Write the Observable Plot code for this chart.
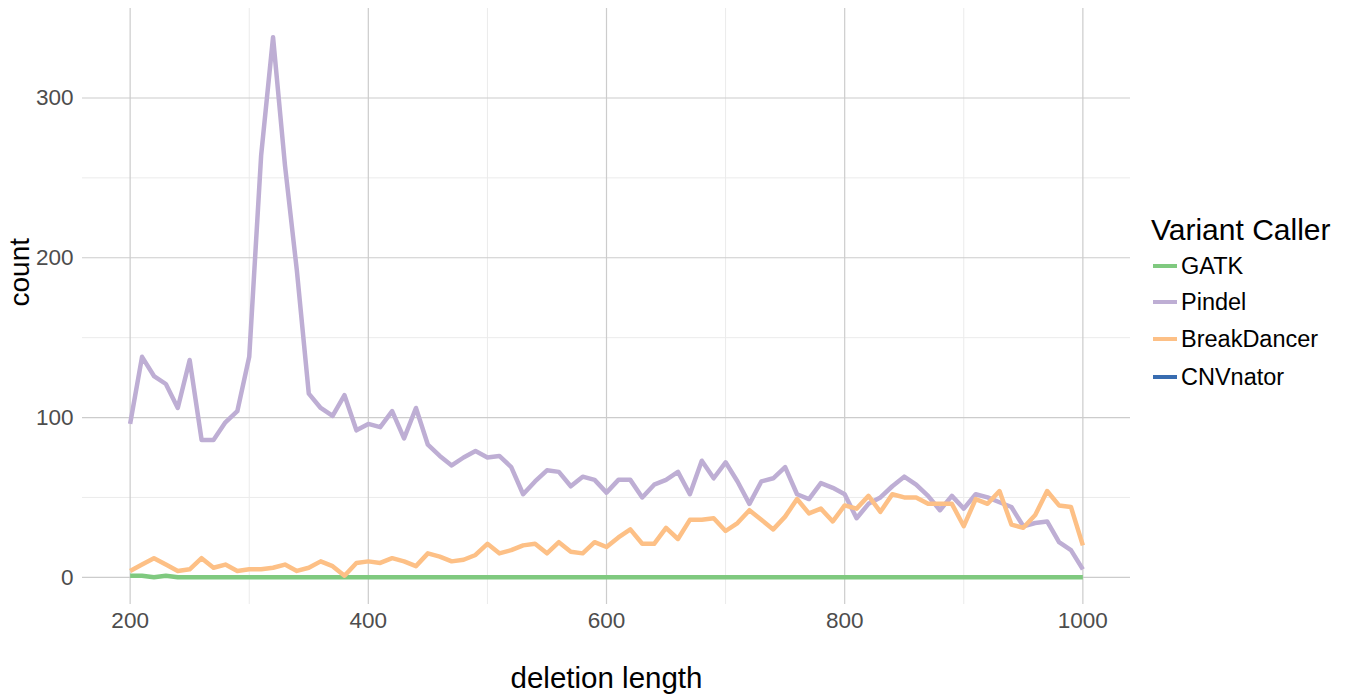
<!DOCTYPE html>
<html>
<head>
<meta charset="utf-8">
<script src="https://cdn.jsdelivr.net/npm/d3@7"></script>
<script src="https://cdn.jsdelivr.net/npm/@observablehq/plot@0.6"></script>
<style>
  html, body { margin: 0; padding: 0; background: #fff; }
  #wrap { position: relative; width: 1353px; height: 696px; font-family: "Liberation Sans", Arial, sans-serif; }
  #wrap svg { position: absolute; left: 0; top: 0; }
  #legend { position: absolute; left: 0; top: 0; width: 1353px; height: 696px; color: #000; pointer-events: none; }
  #legend .title { position: absolute; left: 1151px; top: 214px; font-size: 30px; line-height: 32px; white-space: nowrap; }
  #legend .item { position: absolute; left: 1153px; display: flex; align-items: center; height: 36px; font-size: 23.5px; white-space: nowrap; }
  #legend .key { width: 24px; height: 4px; margin-right: 4px; }
</style>
</head>
<body>
<div id="wrap"><div id="legend"></div></div>
<script>
const lengths = [200,210,220,230,240,250,260,270,280,290,300,310,320,330,340,350,360,370,380,390,400,
  410,420,430,440,450,460,470,480,490,500,510,520,530,540,550,560,570,580,590,600,
  610,620,630,640,650,660,670,680,690,700,710,720,730,740,750,760,770,780,790,800,
  810,820,830,840,850,860,870,880,890,900,910,920,930,940,950,960,970,980,990,1000];
const gatk = [1,1,0,1,0,0,0,0,0,0,0,0,0,0,0,0,0,0,0,0,0,
  0,0,0,0,0,0,0,0,0,0,0,0,0,0,0,0,0,0,0,0,
  0,0,0,0,0,0,0,0,0,0,0,0,0,0,0,0,0,0,0,0,
  0,0,0,0,0,0,0,0,0,0,0,0,0,0,0,0,0,0,0,0];
const pindel = [96,138,126,121,106,136,86,86,97,104,138,264,338,258,192,115,106,101,114,92,96,
  94,104,87,106,83,76,70,75,79,75,76,69,52,60,67,66,57,63,61,53,
  61,61,50,58,61,66,52,73,62,72,60,46,60,62,69,52,49,59,56,52,
  37,46,50,57,63,58,51,42,51,43,52,50,47,44,32,34,35,22,17,5];
const breakdancer = [4,8,12,8,4,5,12,6,8,4,5,5,6,8,4,6,10,7,1,9,10,
  9,12,10,7,15,13,10,11,14,21,15,17,20,21,15,22,16,15,22,19,
  25,30,21,21,31,24,36,36,37,29,34,42,36,30,38,49,40,43,35,45,
  43,51,41,52,50,50,46,46,46,32,49,46,54,33,31,39,54,45,44,20];
const cnvnator = [];
const callers = ["GATK", "Pindel", "BreakDancer", "CNVnator"];
const palette = ["#7fc97f", "#beaed4", "#fdc086", "#386cb0"];
const majorX = [200, 400, 600, 800, 1000];
const minorX = [300, 500, 700, 900];
const majorY = [0, 100, 200, 300];
const minorY = [50, 150, 250];
const xTitle = "deletion length";
const yTitle = "count";
const legendTitle = "Variant Caller";

const series = {GATK: gatk, Pindel: pindel, BreakDancer: breakdancer, CNVnator: cnvnator};
const rows = [];
for (const c of callers) {
  series[c].forEach((v, i) => rows.push({length: lengths[i], count: v, caller: c}));
}

const chart = Plot.plot({
  width: 1353,
  height: 696,
  marginLeft: 82,
  marginRight: 223,
  marginTop: 8,
  marginBottom: 92,
  style: {fontFamily: "Liberation Sans, Arial, sans-serif", fontSize: "22px", background: "transparent"},
  x: {domain: [160, 1040], label: null},
  y: {domain: [-17, 356], label: null},
  color: {domain: callers, range: palette},
  marks: [
    Plot.ruleX(minorX, {stroke: "#ebebeb", strokeWidth: 1}),
    Plot.ruleY(minorY, {stroke: "#ebebeb", strokeWidth: 1}),
    Plot.ruleX(majorX, {stroke: "#cccccc", strokeWidth: 1.2}),
    Plot.ruleY(majorY, {stroke: "#cccccc", strokeWidth: 1.2}),
    Plot.axisX({ticks: majorX, tickFormat: "d", tickSize: 0, tickPadding: 8, fill: "#4d4d4d", fontSize: 22.5, label: null}),
    Plot.axisY({ticks: majorY, tickFormat: "d", tickSize: 0, tickPadding: 9, fill: "#4d4d4d", fontSize: 22.5, label: null}),
    Plot.lineY(rows, {x: "length", y: "count", z: "caller", stroke: "caller", strokeWidth: 4.5, strokeLinejoin: "round", strokeLinecap: "butt"}),
    Plot.text([xTitle], {frameAnchor: "bottom", dy: 83, fontSize: 29.5, fill: "#000", text: d => d}),
    Plot.text([yTitle], {frameAnchor: "left", dx: -62, rotate: -90, fontSize: 28, fill: "#000", text: d => d})
  ]
});
document.getElementById("wrap").prepend(chart);

const legend = document.getElementById("legend");
const t = document.createElement("div");
t.className = "title";
t.textContent = legendTitle;
legend.appendChild(t);
const itemCenters = [266, 302, 339, 377];
callers.forEach((c, i) => {
  const it = document.createElement("div");
  it.className = "item";
  it.style.top = (itemCenters[i] - 18) + "px";
  const k = document.createElement("span");
  k.className = "key";
  k.style.background = palette[i];
  const l = document.createElement("span");
  l.textContent = c;
  it.appendChild(k);
  it.appendChild(l);
  legend.appendChild(it);
});
</script>
</body>
</html>
